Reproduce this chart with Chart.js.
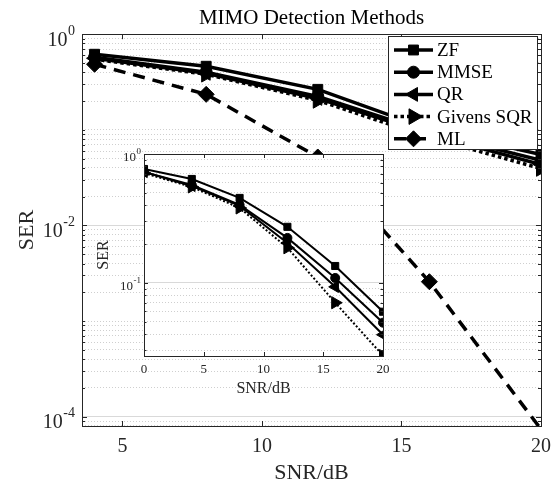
<!DOCTYPE html>
<html>
<head>
<meta charset="utf-8">
<script src="https://cdn.jsdelivr.net/npm/chart.js@4.4.1/dist/chart.umd.min.js"></script>
<style>
  body { margin: 0; background: #fff; }
  #wrap { position: relative; width: 556px; height: 486px; }
  #main { position: absolute; left: 0; top: 0; }
  #inset { position: absolute; left: 90px; top: 140px; }
</style>
</head>
<body>
<div id="wrap">
  <canvas id="main" width="556" height="486"></canvas>
  <canvas id="inset" width="310" height="262"></canvas>
</div>
<script>
// datos del grafico principal (SNR 4..20 dB)
const snrMain = [4, 8, 12, 16, 20];
const zfMain = [0.617, 0.462, 0.265, 0.101, 0.0552];
const mmseMain = [0.574, 0.40, 0.224, 0.094, 0.048];
const qrMain = [0.56, 0.39, 0.213, 0.0895, 0.0434];
const givensMain = [0.547, 0.381, 0.203, 0.083, 0.0394];
const mlMain = [0.485, 0.235, 0.052, 0.00258, 0.000074];

// datos del recuadro (SNR 0..20 dB)
const snrInset = [0, 4, 8, 12, 16, 20];
const zfInset = [0.765, 0.64, 0.456, 0.272, 0.135, 0.0596];
const mmseInset = [0.725, 0.575, 0.402, 0.223, 0.109, 0.049];
const qrInset = [0.725, 0.565, 0.395, 0.204, 0.093, 0.0395];
const givensInset = [0.71, 0.555, 0.381, 0.187, 0.070, 0.0272];

// ticks
const mainXTicks = [5, 10, 15, 20];
const mainYMajor = [1, 1e-2, 1e-4];
const insetXTicks = [0, 5, 10, 15, 20];
const insetYMajor = [1, 1e-1];
const mantissas = [1, 2, 3, 4, 5, 6, 7, 8, 9];

const mainYMin = Math.pow(10, -4.097);
const insetYMin = 0.027;

const serif = 'Liberation Serif, "Times New Roman", serif';
const ink = '#262626';

function isMajor(v, majors) {
  return majors.some(m => Math.abs(Math.log10(m) - Math.log10(v)) < 1e-6);
}

function logTicks(min, max) {
  const out = [];
  for (let e = Math.floor(Math.log10(min)); e <= Math.ceil(Math.log10(max)); e++) {
    mantissas.forEach(m => {
      const v = m * Math.pow(10, e);
      if (v >= min * 0.999 && v <= max * 1.001) out.push(v);
    });
  }
  return out;
}

function series(label, xs, ys, style, radius, rotation, dash, width, order) {
  return {
    label: label,
    data: xs.map((x, i) => ({ x: x, y: ys[i] })),
    borderColor: '#000',
    backgroundColor: '#000',
    pointBackgroundColor: '#000',
    pointBorderColor: '#000',
    borderWidth: width,
    borderDash: dash,
    pointStyle: style,
    pointRadius: radius,
    legendRadius: radius,
    pointRotation: rotation,
    pointBorderWidth: 1,
    tension: 0,
    order: order
  };
}

// caja tipo matlab con ticks hacia dentro
const boxPlugin = {
  id: 'matBox',
  beforeDraw(chart, args, o) {
    if (!o.fill) return;
    const a = chart.chartArea, ctx = chart.ctx;
    ctx.save();
    ctx.fillStyle = o.fill;
    ctx.fillRect(a.left, a.top, a.right - a.left, a.bottom - a.top);
    ctx.restore();
  },
  afterDatasetsDraw(chart, args, o) {
    const { ctx, chartArea: a, scales: { x, y } } = chart;
    ctx.save();
    ctx.strokeStyle = ink;
    ctx.lineWidth = 1;
    ctx.beginPath();
    x.ticks.forEach(t => {
      const px = Math.round(x.getPixelForValue(t.value)) + 0.5;
      ctx.moveTo(px, a.bottom); ctx.lineTo(px, a.bottom - o.len);
      ctx.moveTo(px, a.top); ctx.lineTo(px, a.top + o.len);
    });
    y.ticks.forEach(t => {
      const py = Math.round(y.getPixelForValue(t.value)) + 0.5;
      const l = isMajor(t.value, o.majors) ? o.len : o.minorLen;
      ctx.moveTo(a.left, py); ctx.lineTo(a.left + l, py);
      ctx.moveTo(a.right, py); ctx.lineTo(a.right - l, py);
    });
    ctx.stroke();
    ctx.strokeRect(Math.round(a.left) + 0.5, Math.round(a.top) + 0.5,
      Math.round(a.right - a.left), Math.round(a.bottom - a.top));
    ctx.restore();
  }
};

// etiquetas 10^n con exponente
const expLabels = {
  id: 'expLabels',
  afterDraw(chart, args, o) {
    const { ctx, chartArea: a, scales: { y } } = chart;
    ctx.save();
    ctx.fillStyle = ink;
    ctx.textAlign = 'right';
    ctx.textBaseline = 'alphabetic';
    o.values.forEach(v => {
      const gy = y.getPixelForValue(v);
      const exp = String(Math.round(Math.log10(v)));
      const xr = a.left - o.gap;
      ctx.font = o.expSize + 'px ' + serif;
      const ew = ctx.measureText(exp).width;
      ctx.fillText(exp, xr, gy + o.expDy);
      ctx.font = o.baseSize + 'px ' + serif;
      ctx.fillText('10', xr - ew - 0.5, gy + o.baseDy);
    });
    ctx.restore();
  }
};

// leyenda con recuadro
const boxLegend = {
  id: 'boxLegend',
  afterDraw(chart, args, o) {
    const ctx = chart.ctx;
    ctx.save();
    ctx.fillStyle = '#fff';
    ctx.fillRect(o.left, o.top, o.width, o.height);
    ctx.strokeStyle = ink;
    ctx.lineWidth = 1;
    ctx.strokeRect(o.left + 0.5, o.top + 0.5, o.width, o.height);
    chart.data.datasets.forEach((ds, i) => {
      const cy = o.top + o.first + i * o.step;
      ctx.strokeStyle = ds.borderColor;
      ctx.lineWidth = ds.borderWidth;
      ctx.setLineDash(ds.borderDash || []);
      ctx.beginPath();
      ctx.moveTo(o.left + o.lineFrom, cy);
      ctx.lineTo(o.left + o.lineTo, cy);
      ctx.stroke();
      ctx.setLineDash([]);
      ctx.fillStyle = ds.pointBackgroundColor;
      ctx.strokeStyle = ds.pointBorderColor;
      ctx.lineWidth = 1;
      Chart.helpers.drawPoint(ctx, {
        pointStyle: ds.pointStyle, radius: ds.legendRadius,
        rotation: ds.pointRotation || 0, borderWidth: 1
      }, o.left + (o.lineFrom + o.lineTo) / 2, cy);
      ctx.fillStyle = '#000';
      ctx.font = o.fontSize + 'px ' + serif;
      ctx.textAlign = 'left';
      ctx.textBaseline = 'middle';
      ctx.fillText(ds.label, o.left + o.textX, cy + 1);
    });
    ctx.restore();
  }
};

function gridColor(majors) {
  return ctx => (ctx.tick && isMajor(ctx.tick.value, majors)) ? '#d9d9d9' : '#cfcfcf';
}
function gridDash(majors) {
  return ctx => (ctx.tick && !isMajor(ctx.tick.value, majors)) ? [1, 2] : [];
}

// grafico principal
const mlSet = series('ML', snrMain, mlMain, 'rectRot', 8, 0, [12, 8], 3.5, 1);
mlSet.pointRadius = ctx => (ctx.raw && ctx.raw.y < mainYMin) ? 0 : 8;
mlSet.clip = { left: 12, right: 12, top: 12, bottom: 0 };

new Chart(document.getElementById('main'), {
  type: 'line',
  data: {
    datasets: [
      series('ZF', snrMain, zfMain, 'rect', 7, 0, [], 3.5, 5),
      series('MMSE', snrMain, mmseMain, 'circle', 6, 0, [], 3.5, 4),
      series('QR', snrMain, qrMain, 'triangle', 8, 270, [], 3.5, 3),
      series('Givens SQR', snrMain, givensMain, 'triangle', 9, 90, [3.5, 3], 3.5, 2),
      mlSet
    ]
  },
  options: {
    responsive: false,
    animation: false,
    devicePixelRatio: 1,
    layout: { padding: { left: 0, right: 15, top: 0, bottom: 0 } },
    plugins: {
      legend: { display: false },
      tooltip: { enabled: false },
      title: {
        display: true, text: 'MIMO Detection Methods', fullSize: false, color: '#000',
        font: { family: serif, size: 21, weight: 'normal' }, padding: { top: 6, bottom: 3 }
      },
      matBox: { len: 5, minorLen: 3, majors: mainYMajor },
      expLabels: { values: mainYMajor, baseSize: 20, expSize: 14, gap: 7, baseDy: 11.6, expDy: 0.6 },
      boxLegend: {
        left: 388, top: 36, width: 149, height: 113, first: 14, step: 22.2,
        lineFrom: 6, lineTo: 45, textX: 49, fontSize: 19
      }
    },
    scales: {
      x: {
        type: 'linear', min: 3.55, max: 20,
        afterBuildTicks: s => { s.ticks = mainXTicks.map(v => ({ value: v })); },
        afterFit: s => { s.height = 60; s.paddingLeft = 0; s.paddingRight = 0; },
        grid: { display: false, drawTicks: false },
        border: { display: false },
        ticks: { color: ink, font: { family: serif, size: 20 }, padding: 9, maxRotation: 0 },
        title: { display: true, text: 'SNR/dB', color: ink, font: { family: serif, size: 22 }, padding: { top: 0, bottom: 0 } }
      },
      y: {
        type: 'logarithmic', min: mainYMin, max: 1,
        afterBuildTicks: s => { s.ticks = logTicks(mainYMin, 1).map(v => ({ value: v })); },
        afterFit: s => { s.width = 82; s.paddingTop = 0; s.paddingBottom = 0; },
        grid: { drawTicks: false, color: gridColor(mainYMajor), lineWidth: 1 },
        border: { display: false, dash: gridDash(mainYMajor) },
        ticks: { display: false },
        title: { display: true, text: 'SER', color: ink, font: { family: serif, size: 22 }, padding: { top: 14, bottom: 0 } }
      }
    }
  },
  plugins: [boxPlugin, expLabels, boxLegend]
});

// recuadro
new Chart(document.getElementById('inset'), {
  type: 'line',
  data: {
    datasets: [
      series('ZF', snrInset, zfInset, 'rect', 5, 0, [], 2, 4),
      series('MMSE', snrInset, mmseInset, 'circle', 4.5, 0, [], 2, 3),
      series('QR', snrInset, qrInset, 'triangle', 6.5, 270, [], 2, 2),
      series('Givens SQR', snrInset, givensInset, 'triangle', 7, 90, [2, 2], 2, 1)
    ]
  },
  options: {
    responsive: false,
    animation: false,
    devicePixelRatio: 1,
    layout: { padding: { left: 0, right: 17, top: 14, bottom: 0 } },
    plugins: {
      legend: { display: false },
      tooltip: { enabled: false },
      matBox: { fill: '#fff', len: 4, minorLen: 2.5, majors: insetYMajor },
      expLabels: { values: insetYMajor, baseSize: 13, expSize: 9, gap: 3, baseDy: 7.3, expDy: 0 }
    },
    scales: {
      x: {
        type: 'linear', min: 0, max: 20,
        afterBuildTicks: s => { s.ticks = insetXTicks.map(v => ({ value: v })); },
        afterFit: s => { s.height = 46; s.paddingLeft = 0; s.paddingRight = 0; },
        grid: { display: false, drawTicks: false },
        border: { display: false },
        ticks: { color: ink, font: { family: serif, size: 13 }, padding: 6, maxRotation: 0 },
        title: { display: true, text: 'SNR/dB', color: ink, font: { family: serif, size: 16 }, padding: { top: 0, bottom: 3.4 } }
      },
      y: {
        type: 'logarithmic', min: insetYMin, max: 1,
        afterBuildTicks: s => { s.ticks = logTicks(insetYMin, 1).map(v => ({ value: v })); },
        afterFit: s => { s.width = 54; s.paddingTop = 0; s.paddingBottom = 0; },
        grid: { drawTicks: false, color: gridColor(insetYMajor), lineWidth: 1 },
        border: { display: false, dash: gridDash(insetYMajor) },
        ticks: { display: false },
        title: { display: true, text: 'SER', color: ink, font: { family: serif, size: 16 }, padding: { top: 4.4, bottom: 0 } }
      }
    }
  },
  plugins: [boxPlugin, expLabels]
});
</script>
</body>
</html>
